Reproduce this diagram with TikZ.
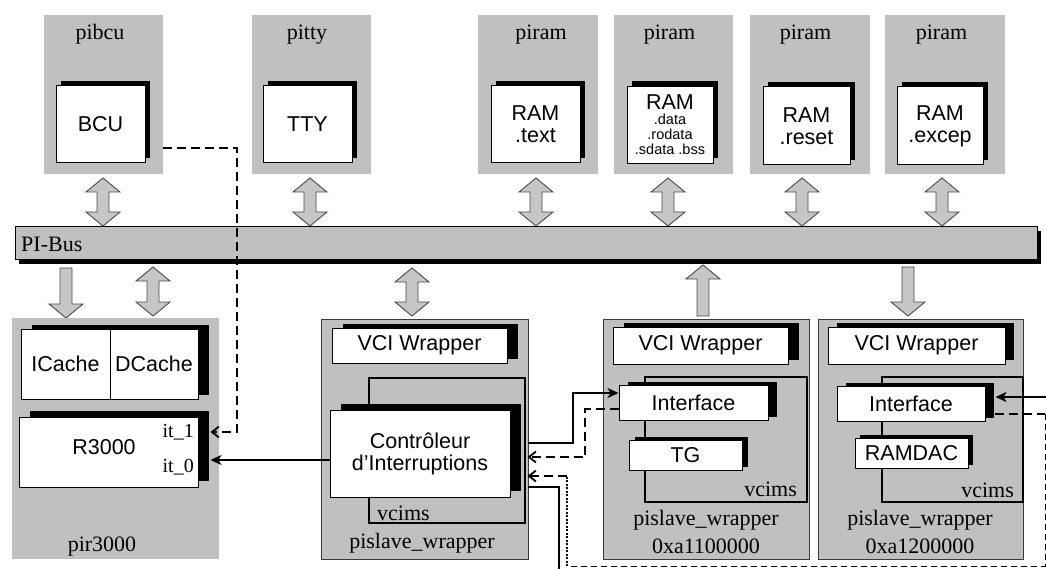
\documentclass[tikz,border=0pt]{standalone}
\usepackage{fontspec}
\setmainfont{Liberation Serif}
\setsansfont{Liberation Sans}
\usetikzlibrary{shadows,arrows.meta}

\definecolor{boxgray}{HTML}{C0C0C0}
\definecolor{arrowfill}{HTML}{C6C6C6}
\definecolor{arrowline}{HTML}{4A4A4A}
\definecolor{frameline}{HTML}{3A3A3A}

\tikzset{
  unit/.style={fill=boxgray, draw=none, inner sep=0pt},
  slave/.style={fill=boxgray, draw=frameline, line width=1pt, inner sep=0pt},
  part/.style={fill=white, draw=black, line width=1pt, inner sep=0pt,
    font=\sffamily\fontsize{21.5}{22}\selectfont, align=center},
  offsetshadow/.style 2 args={general shadow={fill=black, shadow xshift=#1pt, shadow yshift=#2pt}},
  lbl/.style={font=\rmfamily\fontsize{22}{24}\selectfont, inner sep=0pt},
  portlbl/.style={font=\rmfamily\fontsize{20}{22}\selectfont, inner sep=0pt},
  blockarrow/.style={fill=arrowfill, draw=arrowline, line width=0.9pt, line join=miter},
  vcimsframe/.style={draw=black, line width=1.6pt, inner sep=0pt},
  wire/.style={draw=black, line width=1.8pt},
  thinwire/.style={draw=black, line width=1.4pt},
  dashwire/.style={draw=black, line width=1.8pt, dash pattern=on 9pt off 5pt},
  finedash/.style={draw=black, line width=1pt, dash pattern=on 6pt off 4pt},
  dotwire/.style={draw=black, line width=1.8pt, dash pattern=on 2pt off 1.5pt},
  solidtip/.style={-{Stealth[length=11pt,width=10pt,inset=3pt]}},
  bartip/.style={-{Straight Barb[length=7pt,width=11pt]}},
}

% block arrows between the modules and the bus: centre x, top y, bottom y
\newcommand\busdouble[3]{%
  \draw[blockarrow] (#1,#2) -- (#1+17,#2+14) -- (#1+6,#2+14) -- (#1+6,#3-14)
    -- (#1+17,#3-14) -- (#1,#3) -- (#1-17,#3-14) -- (#1-6,#3-14)
    -- (#1-6,#2+14) -- (#1-17,#2+14) -- cycle;}
\newcommand\busdown[3]{%
  \draw[blockarrow] (#1-6,#2) -- (#1+6,#2) -- (#1+6,#3-14) -- (#1+17,#3-14)
    -- (#1,#3) -- (#1-17,#3-14) -- (#1-6,#3-14) -- cycle;}
\newcommand\busup[3]{%
  \draw[blockarrow] (#1,#2) -- (#1+17,#2+14) -- (#1+6,#2+14) -- (#1+6,#3)
    -- (#1-6,#3) -- (#1-6,#2+14) -- (#1-17,#2+14) -- cycle;}

\begin{document}
\begin{tikzpicture}[x=1pt,y=-1pt]
\path[use as bounding box] (0,0) rectangle (1046,569);
\clip (0,0) rectangle (1046,569);

% ---- upper modules ----
\node[unit, minimum width=119pt, minimum height=159pt] (gbcu)  at (103.5,94.5) {};
\node[unit, minimum width=119pt, minimum height=159pt] (gtty)  at (311.5,94.5) {};
\node[unit, minimum width=120pt, minimum height=159pt] (gram1) at (538,94.5) {};
\node[unit, minimum width=119pt, minimum height=159pt] (gram2) at (673.5,94.5) {};
\node[unit, minimum width=120pt, minimum height=159pt] (gram3) at (810,94.5) {};
\node[unit, minimum width=120pt, minimum height=159pt] (gram4) at (945,94.5) {};

\node[lbl, anchor=base] (lbcu)  at (100,40) {pibcu};
\node[lbl, anchor=base] (ltty)  at (307,40) {pitty};
\node[lbl, anchor=base] (lram1) at (541,40) {piram};
\node[lbl, anchor=base] (lram2) at (669.5,40) {piram};
\node[lbl, anchor=base] (lram3) at (805.5,40) {piram};
\node[lbl, anchor=base] (lram4) at (941.5,40) {piram};

\node[part, offsetshadow={5}{5}, minimum width=89pt, minimum height=77pt] (bcu)  at (100.5,124.5) {BCU};
\node[part, offsetshadow={5}{5}, minimum width=89pt, minimum height=77pt] (tty)  at (307.5,124.5) {TTY};
\node[part, offsetshadow={5}{5}, minimum width=89pt, minimum height=77pt] (ram1) at (535.5,124.5) {RAM\\.text};
\node[part, offsetshadow={5}{5}, minimum width=86pt, minimum height=77pt,
      font=\sffamily\fontsize{14.5}{15}\selectfont] (ram2) at (670,125)
      {{\fontsize{21.5}{22}\selectfont RAM}\\.data\\.rodata\\.sdata .bss};
\node[part, offsetshadow={5}{5}, minimum width=87pt, minimum height=78pt] (ram3) at (806.5,126) {RAM\\.reset};
\node[part, offsetshadow={5}{5}, minimum width=86pt, minimum height=78pt] (ram4) at (940,126) {RAM\\.excep};

\busdouble{103}{178}{226}
\busdouble{310}{178}{226}
\busdouble{536}{178}{226}
\busdouble{668}{178}{226}
\busdouble{802}{178}{226}
\busdouble{942}{178}{226}

% ---- bus ----
\node[fill=boxgray, draw=black, line width=1pt, inner sep=0pt, offsetshadow={4}{-4},
      minimum width=1022pt, minimum height=33pt] (bus) at (526,243.5) {};
\node[lbl, anchor=base west] (buslbl) at (21,252) {PI-Bus};

\busdown{66}{268}{318}
\busdouble{153}{267}{316}
\busdouble{412}{268}{316}
\busup{703}{265}{316}
\busdown{908}{267}{316}

% ---- processor ----
\node[unit, minimum width=207pt, minimum height=241pt] (gr3000) at (115.5,438.5) {};
\fill[black] (32,325) rectangle (209,395);
\node[part, minimum width=89pt, minimum height=70pt] (icache) at (65.5,364) {ICache};
\node[part, minimum width=88pt, minimum height=70pt] (dcache) at (154,364) {DCache};
\node[part, offsetshadow={11}{6}, minimum width=179pt, minimum height=70pt] (r3000) at (108.5,452) {};
\node[font=\sffamily\fontsize{21.5}{22}\selectfont, inner sep=0pt] (r3000txt) at (104,447) {R3000};
\node[portlbl, anchor=base east] (it1) at (194,437) {it\_1};
\node[portlbl, anchor=base east] (it0) at (194,472) {it\_0};
\node[lbl, anchor=base] (lr3000) at (102,551) {pir3000};

% ---- interrupt controller wrapper ----
\node[slave, minimum width=207pt, minimum height=240pt] (ws1) at (424.5,439) {};
\node[part, offsetshadow={11}{4}, minimum width=175pt, minimum height=35pt] (vci1) at (419.5,345.5) {VCI Wrapper};
\node[vcimsframe, minimum width=156pt, minimum height=145pt] (vcims1) at (447,450.5) {};
\node[part, offsetshadow={11}{6}, minimum width=180pt, minimum height=87pt] (ctrl) at (420,453.5) {Contrôleur\\d'Interruptions};
\node[lbl, anchor=base west] (lvcims1) at (377,520) {vcims};
\node[lbl, anchor=base] (lws1) at (422,548) {pislave\_wrapper};

% ---- timer wrapper ----
\node[slave, minimum width=206pt, minimum height=240pt] (ws2) at (706,439) {};
\node[part, offsetshadow={11}{4}, minimum width=175pt, minimum height=37pt] (vci2) at (700.5,345.5) {VCI Wrapper};
\node[vcimsframe, minimum width=162pt, minimum height=125pt] (vcims2) at (726,439.5) {};
\node[part, offsetshadow={9}{3}, minimum width=149pt, minimum height=35pt] (iface2) at (693.5,402.5) {Interface};
\node[part, offsetshadow={6}{3}, minimum width=113pt, minimum height=30pt] (tg) at (685.5,455) {TG};
\node[lbl, anchor=base east] (lvcims2) at (797,496) {vcims};
\node[lbl, anchor=base] (lws2) at (706,525) {pislave\_wrapper};
\node[lbl, anchor=base] (addr2) at (706,553) {0xa1100000};

% ---- RAMDAC wrapper ----
\node[slave, minimum width=205pt, minimum height=240pt] (ws3) at (920.5,439) {};
\node[part, offsetshadow={9}{4}, minimum width=177pt, minimum height=37pt] (vci3) at (916.5,345.5) {VCI Wrapper};
\node[vcimsframe, minimum width=141pt, minimum height=125pt] (vcims3) at (952.5,439.5) {};
\node[part, offsetshadow={9}{3}, minimum width=148pt, minimum height=35pt] (iface3) at (911,403.5) {Interface};
\node[part, offsetshadow={5}{3}, minimum width=113pt, minimum height=30pt] (ramdac) at (911.5,453) {RAMDAC};
\node[lbl, anchor=base east] (lvcims3) at (1014,497) {vcims};
\node[lbl, anchor=base] (lws3) at (920,525) {pislave\_wrapper};
\node[lbl, anchor=base] (addr3) at (920,553) {0xa1200000};

% ---- interrupt lines ----
\draw[dashwire, bartip] ([yshift=-53.5pt]gbcu.east) -| (237,432)
  -- ([xshift=12pt,yshift=20pt]r3000.east);
\draw[thinwire, solidtip] ([yshift=-6.5pt]ctrl.west) -- ([xshift=12pt,yshift=-8pt]r3000.east);

\draw[wire, solidtip] ([xshift=17pt,yshift=10.5pt]ctrl.east) -| (573,393)
  -- ([yshift=9.5pt]iface2.west);
\draw[dashwire, bartip] ([yshift=-6.5pt]iface2.west) -| (585,457)
  -- ([xshift=17pt,yshift=-3.5pt]ctrl.east);

% RAMDAC interrupt: leaves the interface, runs round the bottom edge
\coordinate (rdturn) at (1045,414);
\coordinate (rdcorner) at (1045,566);
\coordinate (rdback) at (567,566);
\coordinate (rdup) at (567,476);
\draw[dashwire] ([xshift=9pt,yshift=-10.5pt]iface3.east) -- (rdturn);
\draw[finedash] (rdturn) -- (rdcorner) -- (rdback);
\draw[dotwire] (rdback) -- (rdup);
\draw[dashwire, bartip] (rdup) -- ([xshift=17pt,yshift=-22.5pt]ctrl.east);

\draw[wire, solidtip] ([xshift=17pt,yshift=-33.5pt]ctrl.east) -| (559,590)
  -| (1060,397) -- ([xshift=10pt,yshift=6.5pt]iface3.east);

\end{tikzpicture}
\end{document}
